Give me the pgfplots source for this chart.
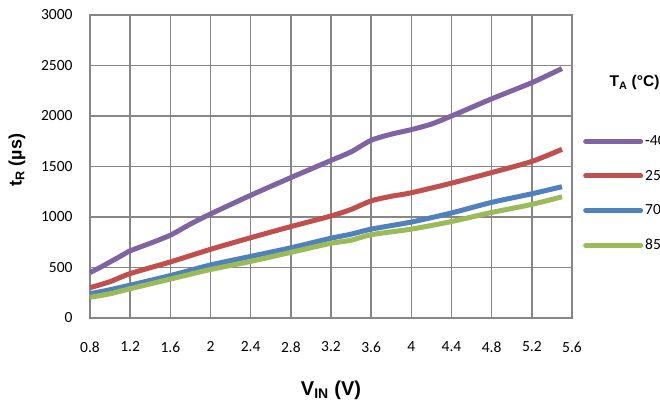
\documentclass[border=0pt]{standalone}
\usepackage{fontspec}
\setmainfont{Carlito}
\newfontfamily\arialf{Liberation Sans}
\usepackage{pgfplots}
\pgfplotsset{compat=1.18}

\definecolor{gridgray}{HTML}{868686}
\definecolor{cpurple}{HTML}{8064A2}
\definecolor{cred}{HTML}{C0504D}
\definecolor{cblue}{HTML}{4F81BD}
\definecolor{cgreen}{HTML}{9BBB59}

\begin{document}
\begin{tikzpicture}
\useasboundingbox (-90pt,-86pt) rectangle (570pt,318pt);
\begin{axis}[
    scale only axis,
    width=482pt, height=303pt,
    xmin=0.8, xmax=5.6,
    ymin=0, ymax=3000,
    xtick={0.8,1.2,1.6,2,2.4,2.8,3.2,3.6,4,4.4,4.8,5.2,5.6},
    xticklabels={0.8,1.2,1.6,2,2.4,2.8,3.2,3.6,4,4.4,4.8,5.2,5.6},
    ytick={0,500,1000,1500,2000,2500,3000},
    /pgf/number format/1000 sep={},
    /pgf/number format/assume math mode=true,
    ticklabel style={font=\fontsize{15.5}{18}\selectfont},
    xticklabel style={yshift=-20pt},
    yticklabel style={xshift=-14pt},
    major tick length=0pt,
    grid=major,
    grid style={gridgray, line width=1.5pt},
    axis line style={gridgray, line width=1.5pt},
    every axis x label/.style={at={(rel axis cs:0.5,0)}, anchor=center, yshift=-72pt},
    every axis y label/.style={at={(rel axis cs:0,0.52)}, anchor=center, rotate=90, yshift=73pt},
    xlabel={\arialf\fontsize{20}{22}\selectfont\bfseries V\textsubscript{IN} (V)},
    ylabel={\arialf\fontsize{18}{20}\selectfont\bfseries t\textsubscript{R} (µs)},
    legend image code/.code={\draw[#1, line cap=round] (0pt,0pt) -- (55pt,0pt);},
    legend style={draw=none, fill=none, inner sep=0pt,
        at={(rel axis cs:1.0228,0.411)}, anchor=west,
        font=\fontsize{15.5}{18}\selectfont, row sep=23pt,
        nodes={inner xsep=2pt, inner ysep=0pt}},
    legend cell align=left,
    every axis plot/.append style={line width=5pt, smooth, tension=0.4},
    clip=false,
]
\addplot[cpurple] coordinates {
(0.8,450) (0.9,500) (1.0,555) (1.1,610) (1.2,665) (1.4,740) (1.6,820)
(1.8,930) (2.0,1030) (2.4,1215) (2.8,1390) (3.2,1560) (3.4,1645)
(3.6,1760) (3.8,1820) (4.0,1865) (4.2,1920) (4.4,2000)
(4.8,2170) (5.2,2330) (5.5,2470)};
\addlegendentry{-40}
\addplot[cred] coordinates {
(0.8,300) (1.0,360) (1.2,440) (1.6,555) (2.0,680) (2.4,795) (2.8,905)
(3.2,1010) (3.4,1075) (3.6,1160) (3.8,1205) (4.0,1240) (4.4,1335)
(4.8,1440) (5.2,1550) (5.5,1670)};
\addlegendentry{25}
\addplot[cblue] coordinates {
(0.8,240) (1.0,280) (1.2,325) (1.6,420) (2.0,525) (2.4,610) (2.8,695)
(3.2,790) (3.4,830) (3.6,880) (4.0,950) (4.4,1040) (4.8,1145)
(5.2,1230) (5.5,1300)};
\addlegendentry{70}
\addplot[cgreen] coordinates {
(0.8,205) (1.0,240) (1.2,290) (1.6,385) (2.0,480) (2.4,560) (2.8,650)
(3.2,740) (3.4,770) (3.6,825) (4.0,880) (4.4,955) (4.8,1045)
(5.2,1125) (5.5,1200)};
\addlegendentry{85}
\node[font=\arialf\fontsize{15.5}{18}\selectfont\bfseries, anchor=center]
  at (rel axis cs:1.1297,0.7756) {T\textsubscript{A} (°C)};
\end{axis}
\end{tikzpicture}
\end{document}
